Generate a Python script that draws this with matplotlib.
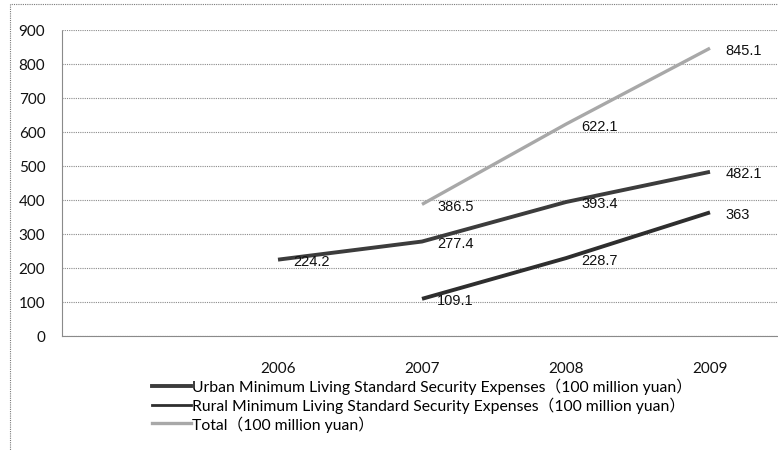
import matplotlib.pyplot as plt
from matplotlib.lines import Line2D
from matplotlib.patches import Rectangle
import numpy as np

# categories (first slot left empty)
years = ['', '2006', '2007', '2008', '2009']
urban = [np.nan, 224.2, 277.4, 393.4, 482.1]
rural = [np.nan, np.nan, 109.1, 228.7, 363]
total = [np.nan, np.nan, 386.5, 622.1, 845.1]

series_names = [
    'Urban Minimum Living Standard Security Expenses\uff08100 million yuan\uff09',
    'Rural Minimum Living Standard Security Expenses\uff08100 million yuan\uff09',
    'Total\uff08100 million yuan\uff09',
]

plt.rcParams['font.family'] = ['Lato', 'Noto Sans CJK SC', 'DejaVu Sans']

fig = plt.figure(figsize=(7.78, 4.52), dpi=100)
ax = fig.add_axes([62 / 778, 1 - 337 / 452, 720 / 778, (337 - 30.5) / 452])

# outer chart border
fig.patches.append(Rectangle((10 / 778, -0.05), 1.0, 1 - 5 / 452 + 0.05,
                             transform=fig.transFigure, fill=False,
                             edgecolor='#7a7a7a', linestyle=(0, (1, 1)),
                             linewidth=0.8))

x = np.arange(len(years))
styles = [
    dict(color='#3c3c3c', lw=2.8),
    dict(color='#2e2e2e', lw=2.8),
    dict(color='#a8a8a8', lw=2.4),
]
data = [urban, rural, total]
for vals, st in zip(data, styles):
    ax.plot(x, vals, solid_capstyle='butt', **st)
    for xi, v in zip(x, vals):
        if not np.isnan(v):
            ax.annotate(f'{v:g}', (xi, v), xytext=(11, -1),
                        textcoords='offset points', ha='left', va='center',
                        fontsize=10.5, color='#111111',
                        family=['Liberation Sans', 'DejaVu Sans'])

ax.set_xlim(-0.5, 4.5)
ax.set_ylim(0, 900)
ax.set_yticks(np.arange(0, 901, 100))
ax.set_xticks(x)
ax.set_xticklabels(years)
ax.tick_params(axis='both', length=0, labelsize=11, colors='#111111')
ax.tick_params(axis='y', pad=12)
ax.tick_params(axis='x', pad=18)

ax.grid(axis='y', color='#8a8a8a', linestyle=(0, (1, 1)), linewidth=0.8)
ax.set_axisbelow(True)
for side in ['top', 'right']:
    ax.spines[side].set_visible(False)
ax.spines['left'].set_linestyle((0, (1, 1)))
ax.spines['left'].set_color('#8a8a8a')
ax.spines['left'].set_linewidth(0.8)
ax.spines['bottom'].set_color('#8a8a8a')
ax.spines['bottom'].set_linewidth(0.8)

handles = [Line2D([], [], **st) for st in styles]
handles[1].set_linewidth(2.0)
fig.legend(handles, series_names, loc='upper left',
           bbox_to_anchor=(152 / 778, 1 - 379 / 452), frameon=False,
           fontsize=11.3, handlelength=2.5, handletextpad=0.05,
           labelspacing=0.15, borderpad=0, borderaxespad=0)

fig.savefig('out.png', dpi=100)
